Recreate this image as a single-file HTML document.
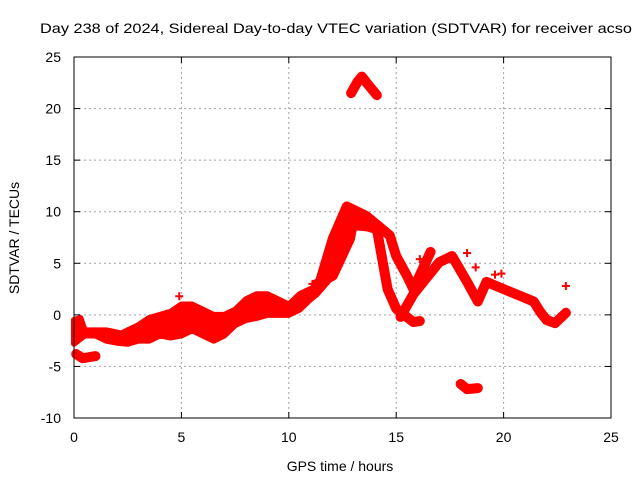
<!DOCTYPE html>
<html><head><meta charset="utf-8"><style>
body{margin:0;background:#fff}
svg{display:block;font-family:"Liberation Sans",sans-serif}
</style></head><body>
<svg id="chart" width="640" height="480">
<text x="40" y="33" font-size="14" textLength="592" lengthAdjust="spacingAndGlyphs">Day 238 of 2024, Sidereal Day-to-day VTEC variation (SDTVAR) for receiver acso</text>
<text x="340" y="471" font-size="14" text-anchor="middle">GPS time / hours</text>
<text transform="translate(19,238) rotate(-90)" font-size="14" text-anchor="middle">SDTVAR / TECUs</text>
<g id="grid"></g><g id="marks"></g><g id="axes"></g>
</svg>
<script>
const xTicks=[0,5,10,15,20,25];
const yTicks=[-10,-5,0,5,10,15,20,25];
const bandUpper=[[0,-0.5],[0.3,-0.3],[0.5,-1.5],[1.5,-1.5],[2.2,-1.8],[3,-1],[3.5,-0.3],[4,0],[4.5,0.3],[5,1],[5.5,1],[6,0.5],[6.5,0],[7,0],[7.5,0.5],[8,1.5],[8.5,2],[9,2],[9.5,1.5],[10,1],[10.5,2],[11,2.5]];
const bandLower=[[0,-2.8],[0.5,-2],[1,-2],[1.5,-2.5],[2,-2.7],[2.5,-2.8],[3,-2.5],[3.5,-2.5],[4,-2],[4.5,-2.2],[5,-2],[5.5,-1.5],[6,-2],[6.5,-2.5],[7,-2],[7.5,-1],[8,-0.5],[8.5,-0.3],[9,0],[9.5,0],[10,0],[10.5,0.5],[11,1.5]];
const peakOutline=[[11,1.5],[11.45,3.2],[12.05,7.4],[12.7,10.5],[13.6,9.6],[14.1,8.3],[13.0,8.5],[12.85,7.4],[12.3,5],[12.05,3.8],[11.3,2]];
const lowTrack=[[0.1,-3.8],[0.4,-4.2],[0.7,-4.1],[1.0,-4.0]];
const peakLeft=[[11,2],[11.45,3.2],[12.05,7.4],[12.7,10.5],[13.0,10]];
const peakRight=[[11.3,3],[12.05,3.8],[12.85,7.4],[13.0,9],[14.1,8.3],[14.6,2.5],[15.0,0.6],[15.8,-0.7],[16.1,-0.6]];
const upperBranch=[[12.7,10.5],[13.6,9.6],[14.7,7.7],[15.0,5.7],[15.5,3.8],[15.8,2.5],[16.6,6.1]];
const rightBranch=[[15.2,-0.2],[15.8,2],[17.0,5.1],[17.6,5.7],[18.3,3.2],[18.8,1.3],[19.2,3.2],[20.0,2.5],[21.4,1.3],[21.7,0.3],[22.0,-0.5],[22.4,-0.8],[22.9,0.2]];
const topCluster=[[12.9,21.5],[13.2,22.6],[13.4,23.1],[13.7,22.3],[14.1,21.3]];
const bottomCluster=[[18.0,-6.7],[18.3,-7.2],[18.8,-7.1]];
const isolated=[[22.9,2.8],[19.6,3.9],[19.9,4.0],[4.9,1.8],[11.1,3],[18.3,6],[18.7,4.6],[16.1,5.4]];
const X0=74,X1=611,Y0=418,Y1=57;
const sx=t=>X0+(t-0)/(25-0)*(X1-X0);
const sy=v=>Y0-(v+10)/(35)*(Y0-Y1);
const NS="http://www.w3.org/2000/svg";
function mk(tag,attrs,parent){const e=document.createElementNS(NS,tag);for(const k in attrs)e.setAttribute(k,attrs[k]);parent.appendChild(e);return e;}
const grid=document.getElementById('grid'),marks=document.getElementById('marks'),axes=document.getElementById('axes');
xTicks.forEach(t=>{
 if(t>0&&t<25){const l=mk('line',{x1:sx(t),x2:sx(t),y1:Y1,y2:Y0,stroke:'#a0a0a0','stroke-dasharray':'2,3'},grid);
 
 }
 const tx=mk('text',{x:sx(t),y:Y0+24,'font-size':14,'text-anchor':'middle'},axes);tx.textContent=t;
 
 
 mk('line',{x1:sx(t),x2:sx(t),y1:Y0,y2:Y0-6,stroke:'#000'},axes);
 mk('line',{x1:sx(t),x2:sx(t),y1:Y1,y2:Y1+6,stroke:'#000'},axes);
});
yTicks.forEach(v=>{
 if(v>-10&&v<25){const l=mk('line',{x1:X0,x2:X1,y1:sy(v),y2:sy(v),stroke:'#a0a0a0','stroke-dasharray':'2,3'},grid);
 
 }
 const tx=mk('text',{x:X0-13,y:sy(v)+5,'font-size':14,'text-anchor':'end'},axes);tx.textContent=v;
 
 
 mk('line',{x1:X0,x2:X0+6,y1:sy(v),y2:sy(v),stroke:'#000'},axes);
 mk('line',{x1:X1,x2:X1-6,y1:sy(v),y2:sy(v),stroke:'#000'},axes);
});
const frame=mk('rect',{x:X0,y:Y1,width:X1-X0,height:Y0-Y1,fill:'none',stroke:'#000'},axes);


const pts=a=>a.map(p=>sx(p[0])+','+sy(p[1])).join(' ');
const band=mk('polygon',{points:pts(bandUpper.concat(bandLower.slice().reverse())),fill:'#f00',stroke:'#f00','stroke-width':6,'stroke-linejoin':'round'},marks);


const peak=mk('polygon',{points:pts(peakOutline),fill:'#f00',stroke:'#f00','stroke-width':6,'stroke-linejoin':'round'},marks);


[lowTrack,peakLeft,peakRight,upperBranch,rightBranch,topCluster,bottomCluster].forEach(tr=>{
 const pl=mk('polyline',{points:pts(tr),fill:'none',stroke:'#f00','stroke-width':10,'stroke-linejoin':'round','stroke-linecap':'round'},marks);
 
 
});
[].concat(lowTrack,peakLeft,peakRight,upperBranch,rightBranch,topCluster,bottomCluster,isolated).forEach(p=>{
 const x=sx(p[0]),y=sy(p[1]);
 const m=mk('path',{d:`M${x-4},${y}h8M${x},${y-4}v8`,stroke:'#f00','stroke-width':2},marks);
 
 
});
</script>
</body></html>
